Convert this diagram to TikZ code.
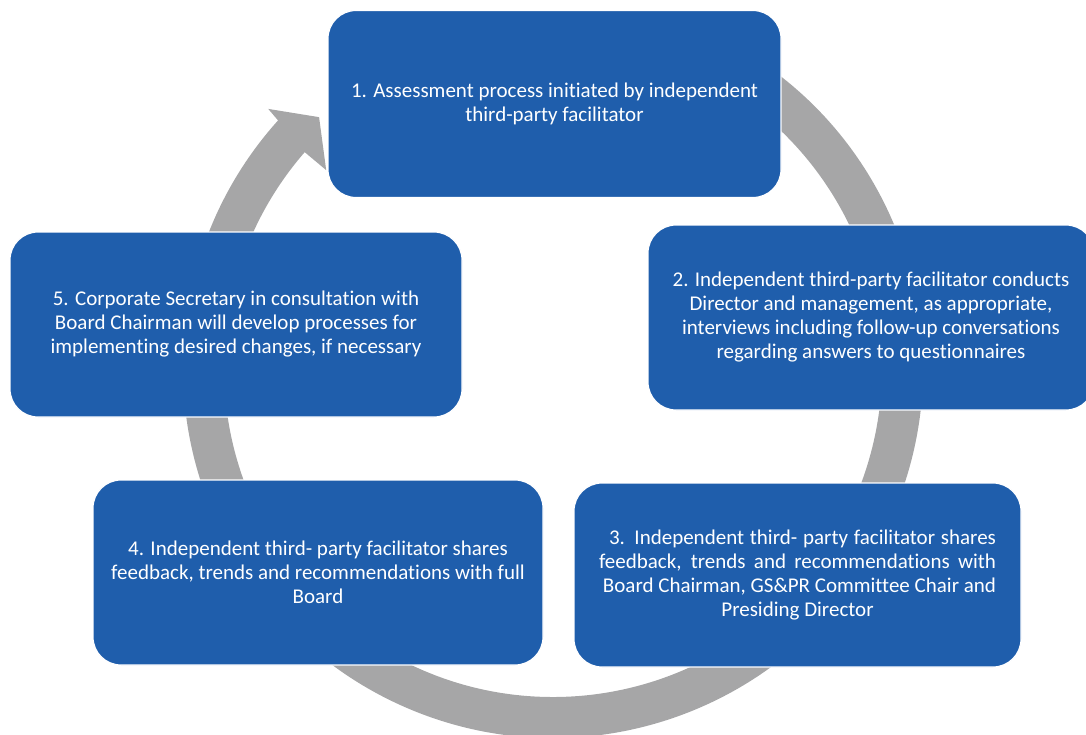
\documentclass[tikz,border=0pt]{standalone}
\usepackage{fontspec}
\setmainfont{Carlito}[Ligatures=NoCommon]
\usetikzlibrary{calc}
\definecolor{stepblue}{HTML}{1F5EAC}
\definecolor{ringgray}{HTML}{A6A6A7}
\begin{document}
\begin{tikzpicture}[x=1pt,y=-1pt,
  stepbox/.style={draw=white, line width=1.2pt, fill=stepblue, rounded corners=28pt,
    text=white, align=center, inner sep=0pt,
    font=\fontsize{21}{24}\selectfont,
    execute at begin node={\vspace*{6pt}}},
  ring/.style={fill=ringgray}]
\useasboundingbox (0,0) rectangle (1086,734);
\clip (0,0) rectangle (1086,734);
\coordinate (C) at (553,368);
% circular arrow behind the steps, running clockwise with its head at the top left
\fill[ring] ($(C)+(-65:370)$) arc[start angle=-65, end angle=222, radius=370]
  -- ($(C)+(222.3:385)$) -- ($(C)+(227:343)$) -- ($(C)+(221.1:301)$)
  -- ($(C)+(221:329)$) arc[start angle=221, end angle=-65, radius=329] -- cycle;
% the five steps
\node[stepbox, minimum width=453pt, minimum height=187pt] (b1) at (554.5,104)
  {1. Assessment process initiated by independent\\ third-party facilitator};
\node[stepbox, minimum width=446pt, minimum height=185pt] (b2) at (871,317.5)
  {2. Independent third-party facilitator conducts\\ Director and management, as appropriate,\\
   interviews including follow-up conversations\\ regarding answers to questionnaires};
\node[stepbox, minimum width=447pt, minimum height=184pt] (b3) at (797.5,575)
  {\makebox[397pt][r]{\makebox[387pt][s]{3. Independent third- party facilitator shares}}\\
   \makebox[397pt][s]{feedback, trends and recommendations with}\\
   \makebox[397pt][r]{Board Chairman, GS\&PR Committee Chair and}\\
   Presiding Director};
\node[stepbox, minimum width=450pt, minimum height=185pt] (b4) at (318,572.5)
  {4. Independent third- party facilitator shares\\ feedback, trends and recommendations with full\\ Board};
\node[stepbox, minimum width=452pt, minimum height=185pt] (b5) at (236,324.5)
  {5. Corporate Secretary in consultation with\\ Board Chairman will develop processes for\\
   implementing desired changes, if necessary};
\end{tikzpicture}
\end{document}
